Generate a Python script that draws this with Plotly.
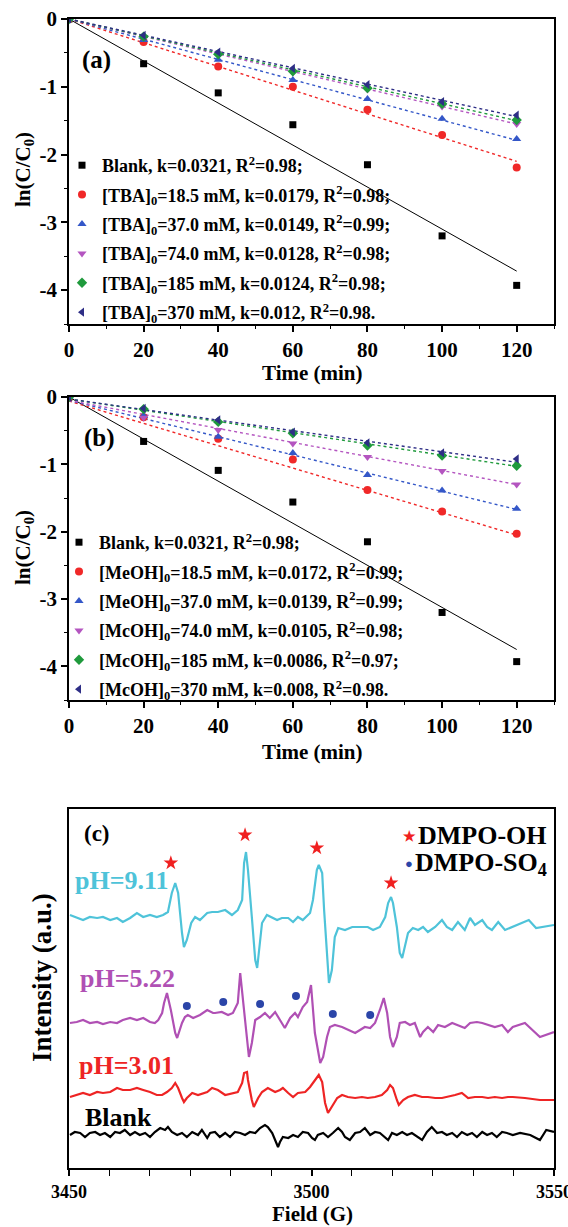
import plotly.graph_objects as go

W, H = 568, 1227
FONT = "Liberation Serif"

# ---------------- data: panels (a) and (b) ----------------
time_min = [0, 20, 40, 60, 80, 100, 120]

blank_vals = [0, -0.66, -1.09, -1.56, -2.15, -3.20, -3.93]

tba_labels = ["Blank, k=0.0321, R<sup>2</sup>=0.98;",
              "[TBA]<sub>0</sub>=18.5 mM, k=0.0179, R<sup>2</sup>=0.98;",
              "[TBA]<sub>0</sub>=37.0 mM, k=0.0149, R<sup>2</sup>=0.99;",
              "[TBA]<sub>0</sub>=74.0 mM, k=0.0128, R<sup>2</sup>=0.98;",
              "[TBA]<sub>0</sub>=185 mM, k=0.0124, R<sup>2</sup>=0.98;",
              "[TBA]<sub>0</sub>=370 mM, k=0.012, R<sup>2</sup>=0.98."]
tba_18 = [0, -0.34, -0.70, -1.00, -1.34, -1.71, -2.19]
tba_37 = [0, -0.31, -0.60, -0.90, -1.18, -1.47, -1.77]
tba_74 = [0, -0.27, -0.51, -0.79, -1.04, -1.29, -1.55]
tba_185 = [0, -0.26, -0.52, -0.77, -1.02, -1.25, -1.49]
tba_370 = [0, -0.24, -0.49, -0.73, -0.97, -1.22, -1.42]
tba_fit_start = [0, 0, 0, 0, 0, 0]
tba_fit_end = [-3.72, -2.10, -1.79, -1.55, -1.50, -1.44]

meoh_labels = ["Blank, k=0.0321, R<sup>2</sup>=0.98;",
               "[MeOH]<sub>0</sub>=18.5 mM, k=0.0172, R<sup>2</sup>=0.99;",
               "[MeOH]<sub>0</sub>=37.0 mM, k=0.0139, R<sup>2</sup>=0.99;",
               "[McOH]<sub>0</sub>=74.0 mM, k=0.0105, R<sup>2</sup>=0.98;",
               "[McOH]<sub>0</sub>=185 mM, k=0.0086, R<sup>2</sup>=0.97;",
               "[McOH]<sub>0</sub>=370 mM, k=0.008, R<sup>2</sup>=0.98."]
meoh_18 = [0, -0.30, -0.62, -0.93, -1.38, -1.70, -2.03]
meoh_37 = [0, -0.28, -0.59, -0.83, -1.16, -1.39, -1.66]
meoh_74 = [0, -0.31, -0.49, -0.69, -0.89, -1.10, -1.30]
meoh_185 = [0, -0.18, -0.37, -0.54, -0.72, -0.87, -1.02]
meoh_370 = [0, -0.17, -0.34, -0.52, -0.68, -0.83, -0.92]
meoh_fit_start = [0, -0.06, -0.05, -0.05, -0.03, -0.03]
meoh_fit_end = [-3.75, -2.05, -1.67, -1.30, -1.03, -0.97]

series_colors = ["#000000", "#f02828", "#3457c8", "#b455c0", "#1f9a3c", "#2e2e86"]
series_symbols = ["square", "circle", "triangle-up", "triangle-down", "diamond", "triangle-left"]

y_tick_vals = [0, -1, -2, -3, -4]
y_tick_text = ["0", "-1", "-2", "-3", "-4"]

# ---------------- data: panel (c) EPR spectra (field G, intensity a.u.) ----------------
spec_ph911 = [(3450.2,253),(3451.6,250),(3452.9,248),(3454.3,251),(3455.8,250),(3457.0,251),(3458.5,248),
    (3459.9,250),(3461.1,246),(3462.6,250),(3464.0,255),(3465.3,251),(3466.7,253),(3468.1,251),(3469.4,253),
    (3470.4,256),(3471.2,275),(3471.9,285),(3472.5,275),(3473.3,235),(3473.7,221),(3474.3,228),(3475.2,245),
    (3476.0,251),(3477.0,248),(3478.5,255),(3479.5,256),(3480.7,256),(3482.2,258),(3483.6,253),(3484.8,258),
    (3485.7,268),(3486.1,305),(3486.5,316),(3486.9,298),(3487.7,251),(3488.4,208),(3488.8,200),(3489.2,218),
    (3489.8,245),(3490.8,253),(3491.9,250),(3492.9,248),(3493.9,250),(3495.2,250),(3496.2,246),(3497.2,251),
    (3498.2,248),(3499.7,255),(3500.3,268),(3501.1,298),(3501.5,303),(3502.2,295),(3502.6,258),(3503.2,208),
    (3503.6,185),(3504.2,198),(3504.8,231),(3505.5,240),(3506.9,238),(3508.4,241),(3510.0,241),(3511.6,241),
    (3512.7,238),(3514.1,241),(3515.2,251),(3515.8,265),(3516.4,271),(3516.8,265),(3517.6,241),(3518.2,215),
    (3518.7,210),(3519.1,218),(3519.9,235),(3520.9,240),(3522.0,238),(3523.0,241),(3524.0,236),(3525.5,241),
    (3526.9,248),(3527.9,241),(3529.0,238),(3530.2,246),(3531.6,238),(3532.7,250),(3533.7,243),(3535.2,248),
    (3536.2,241),(3537.2,238),(3538.5,246),(3539.9,238),(3541.3,241),(3543.4,245),(3544.8,248),(3546.3,240),
    (3547.7,241),(3550.0,243)]

spec_ph522 = [(3450.2,145),(3451.6,146),(3452.9,148),(3454.3,145),(3455.8,146),(3457.0,144),(3458.5,146),
    (3459.9,145),(3461.1,148),(3462.6,150),(3464.0,148),(3465.3,150),(3466.7,146),(3467.7,145),(3468.4,148),
    (3469.2,155),(3469.6,165),(3470.2,175),(3471.0,158),(3471.9,135),(3472.3,130),(3473.3,145),(3473.9,151),
    (3474.5,153),(3475.6,150),(3477.0,153),(3478.5,158),(3479.7,155),(3480.1,155),(3481.5,156),(3482.8,153),
    (3483.8,155),(3484.8,165),(3485.3,195),(3486.3,148),(3487.1,111),(3487.7,125),(3488.4,148),(3489.4,151),
    (3490.4,155),(3491.4,150),(3492.5,156),(3493.5,148),(3494.5,140),(3495.6,150),(3496.6,155),(3497.2,151),
    (3498.2,161),(3499.1,166),(3499.9,183),(3500.7,135),(3501.8,105),(3502.4,111),(3503.2,131),(3503.8,141),
    (3504.8,143),(3506.3,141),(3507.5,138),(3509.0,135),(3510.0,138),(3511.0,141),(3512.1,140),(3513.1,145),
    (3514.1,158),(3514.9,170),(3515.6,155),(3516.2,131),(3516.8,121),(3517.6,131),(3518.2,145),(3519.3,146),
    (3520.3,143),(3521.3,145),(3522.4,131),(3523.0,136),(3524.0,141),(3525.1,136),(3526.1,143),(3527.5,141),
    (3529.0,145),(3530.2,143),(3531.6,140),(3532.7,145),(3534.1,146),(3535.2,145),(3536.4,143),(3537.8,141),
    (3539.3,143),(3540.5,136),(3541.5,141),(3544.0,145),(3547.1,131),(3550.0,136)]

spec_ph301 = [(3450.2,71),(3451.6,73),(3452.9,75),(3454.3,73),(3455.8,76),(3457.0,75),(3458.5,76),(3459.9,80),
    (3461.1,78),(3462.6,78),(3464.0,80),(3465.3,78),(3466.7,76),(3468.1,73),(3469.2,73),(3470.2,76),(3471.2,80),
    (3471.9,85),(3472.5,80),(3473.3,70),(3473.7,66),(3474.3,70),(3475.4,75),(3476.6,73),(3478.5,76),(3479.5,80),
    (3480.7,78),(3482.2,73),(3483.6,75),(3484.8,76),(3485.7,85),(3486.1,95),(3486.7,96),(3486.9,88),(3487.7,68),
    (3488.1,61),(3489.0,70),(3489.8,76),(3491.0,80),(3492.5,76),(3493.5,78),(3494.1,80),(3495.2,75),(3496.2,71),
    (3497.2,75),(3498.7,76),(3499.7,81),(3500.7,88),(3501.5,93),(3502.2,86),(3502.8,65),(3503.4,55),(3504.2,61),
    (3505.3,70),(3506.3,73),(3507.5,71),(3509.0,70),(3510.4,71),(3511.6,70),(3513.1,71),(3514.5,73),(3515.6,78),
    (3516.2,83),(3516.8,80),(3517.6,68),(3518.0,63),(3518.9,68),(3519.9,71),(3521.3,73),(3522.8,71),(3524.0,71),
    (3525.5,70),(3526.9,70),(3528.1,71),(3529.6,73),(3531.0,75),(3532.3,70),(3533.7,71),(3535.2,71),(3536.4,70),
    (3537.8,71),(3539.3,70),(3540.5,71),(3541.5,71),(3544.0,70),(3547.1,68),(3550.0,68)]

spec_blank = [(3450.2,33),(3451.2,36),(3452.3,35),(3453.3,31),(3454.3,35),(3455.4,36),(3456.4,33),(3457.4,35),
    (3458.5,31),(3459.5,36),(3460.5,35),(3461.5,38),(3462.6,33),(3463.6,36),(3464.6,33),(3465.7,35),(3466.7,31),
    (3467.7,36),(3468.8,40),(3469.8,38),(3470.4,41),(3471.2,36),(3472.3,33),(3473.3,35),(3474.3,31),(3475.4,36),
    (3476.6,33),(3477.4,38),(3478.5,30),(3479.1,35),(3480.1,36),(3481.1,31),(3482.2,35),(3483.2,31),(3484.2,36),
    (3485.3,35),(3486.3,33),(3487.3,36),(3488.4,35),(3489.4,40),(3490.4,43),(3491.0,41),(3491.9,35),(3492.5,28),
    (3493.1,21),(3493.5,26),(3494.1,31),(3495.2,30),(3496.2,33),(3497.2,31),(3498.2,36),(3499.3,35),(3500.1,30),
    (3500.7,28),(3501.3,33),(3502.4,35),(3503.4,31),(3504.4,35),(3505.5,40),(3506.3,36),(3506.9,31),(3507.9,28),
    (3509.0,35),(3510.0,36),(3511.0,40),(3512.1,33),(3513.1,36),(3514.1,35),(3515.2,31),(3515.8,28),(3516.6,35),
    (3517.6,33),(3518.7,36),(3519.7,33),(3520.7,35),(3521.8,31),(3522.8,28),(3523.8,36),(3524.8,41),(3525.9,35),
    (3526.9,36),(3527.9,33),(3529.0,35),(3530.0,31),(3531.0,36),(3532.1,33),(3533.1,35),(3534.1,31),(3535.2,36),
    (3536.2,33),(3537.2,35),(3538.2,31),(3539.3,36),(3540.3,35),(3541.5,33),(3543.0,35),(3545.1,33),(3547.1,28),
    (3548.4,38),(3550.0,36)]

star_field = [3471.0, 3486.3, 3501.1, 3516.4]
star_int = [305, 333, 320, 285]
dot_field = [3474.3, 3481.8, 3489.4, 3496.8, 3504.4, 3512.1]
dot_int = [162, 166, 164, 172, 154, 153]

spec_colors = {"pH=9.11": "#4ec3d9", "pH=5.22": "#b050b4", "pH=3.01": "#ee2424", "Blank": "#000000"}

# ---------------- figure ----------------
fig = go.Figure()

def add_kinetics(xa, ya, legend_name, label_list, datasets, fit_start, fit_end):
    for i, (lab, vals) in enumerate(zip(label_list, datasets)):
        c = series_colors[i]
        fig.add_trace(go.Scatter(
            x=[time_min[0], time_min[-1]], y=[fit_start[i], fit_end[i]],
            mode="lines", xaxis=xa, yaxis=ya, showlegend=False, hoverinfo="skip",
            line=dict(color=c, width=1.0 if i == 0 else 1.4, dash="solid" if i == 0 else "dot")))
    for i, (lab, vals) in enumerate(zip(label_list, datasets)):
        c = series_colors[i]
        fig.add_trace(go.Scatter(
            x=time_min, y=vals, mode="markers", xaxis=xa, yaxis=ya, name=lab,
            legend=legend_name, legendgroup=legend_name + str(i),
            marker=dict(symbol=series_symbols[i], color=c, size=8 if i != 0 else 7,
                        line=dict(width=0))))

add_kinetics("x", "y", "legend", tba_labels,
             [blank_vals, tba_18, tba_37, tba_74, tba_185, tba_370], tba_fit_start, tba_fit_end)
add_kinetics("x2", "y2", "legend2", meoh_labels,
             [blank_vals, meoh_18, meoh_37, meoh_74, meoh_185, meoh_370], meoh_fit_start, meoh_fit_end)

for name, spec in [("pH=9.11", spec_ph911), ("pH=5.22", spec_ph522),
                   ("pH=3.01", spec_ph301), ("Blank", spec_blank)]:
    fig.add_trace(go.Scatter(x=[p[0] for p in spec], y=[p[1] for p in spec], mode="lines",
                             xaxis="x3", yaxis="y3", showlegend=False,
                             line=dict(color=spec_colors[name], width=2.2)))
fig.add_trace(go.Scatter(x=star_field, y=star_int, mode="markers", xaxis="x3", yaxis="y3",
                         showlegend=False, marker=dict(symbol="star", size=11, color="#f02020")))
fig.add_trace(go.Scatter(x=dot_field, y=dot_int, mode="markers", xaxis="x3", yaxis="y3",
                         showlegend=False, marker=dict(symbol="circle", size=8, color="#2b45a8")))

xdom = [69 / W, 554 / W]
def ydom(top, bottom):
    return [1 - bottom / H, 1 - top / H]

tickfont = dict(family=FONT, size=21, color="black", weight="bold")
def kin_xaxis(dom_anchor):
    return dict(domain=xdom, anchor=dom_anchor, range=[0, 130], tick0=0, dtick=20, automargin=False,
                ticks="outside", ticklen=6, tickwidth=1.5, tickcolor="black",
                minor=dict(dtick=10, ticks="outside", ticklen=3, tickwidth=1.2, tickcolor="black"),
                showline=True, linewidth=1.8, linecolor="black", mirror=True,
                showgrid=False, zeroline=False, tickfont=tickfont)
def kin_yaxis(dom, anchor):
    return dict(domain=dom, anchor=anchor, range=[-4.5, 0], tickvals=y_tick_vals, ticktext=y_tick_text,
                automargin=False,
                ticks="outside", ticklen=6, tickwidth=1.5, tickcolor="black",
                minor=dict(dtick=0.5, ticks="outside", ticklen=3, tickwidth=1.2, tickcolor="black"),
                showline=True, linewidth=1.8, linecolor="black", mirror=True,
                showgrid=False, zeroline=False, tickfont=tickfont)

legend_common = dict(xanchor="left", yanchor="top", bgcolor="rgba(0,0,0,0)",
                     font=dict(family=FONT, size=18, color="black", weight="bold"),
                     tracegroupgap=3, itemwidth=30, borderwidth=0)

fig.update_layout(
    width=W, height=H, margin=dict(l=0, r=0, t=0, b=0, autoexpand=False),
    paper_bgcolor="white", plot_bgcolor="white",
    xaxis=kin_xaxis("y"), yaxis=kin_yaxis(ydom(19, 324), "x"),
    xaxis2=kin_xaxis("y2"), yaxis2=kin_yaxis(ydom(397, 700), "x2"),
    xaxis3=dict(domain=xdom, anchor="y3", range=[3450, 3550], tick0=3450, dtick=50, automargin=False,
                ticklabeloverflow="allow",
                ticks="outside", ticklen=6, tickwidth=1.5, tickcolor="black",
                minor=dict(dtick=50 / 6, ticks="outside", ticklen=6, tickwidth=1.2, tickcolor="black"),
                showline=True, linewidth=1.8, linecolor="black", mirror=True,
                showgrid=False, zeroline=False,
                tickfont=dict(family=FONT, size=18, color="black", weight="bold")),
    yaxis3=dict(domain=ydom(809, 1168), anchor="x3", range=[0, 359], showticklabels=False,
                automargin=False,
                ticks="", showline=True, linewidth=1.8, linecolor="black", mirror=True,
                showgrid=False, zeroline=False),
    legend=dict(x=62 / W, y=1 - 147 / H, **legend_common),
    legend2=dict(x=59 / W, y=1 - 524 / H, **legend_common),
)

def ann(text, x, y, size, color="black", xanchor="center", angle=0):
    fig.add_annotation(text=text, x=x / W, y=1 - y / H, xref="paper", yref="paper",
                       showarrow=False, xanchor=xanchor, yanchor="middle", textangle=angle,
                       font=dict(family=FONT, size=size, color=color, weight="bold"))

ann("(a)", 80, 60, 25, xanchor="left")
ann("(b)", 82, 438, 25, xanchor="left")
ann("(c)", 82, 833, 23, xanchor="left")
ann("Time (min)", 312, 373, 21)
ann("Time (min)", 312, 752, 21)
ann("Field (G)", 312, 1214, 21)
ann("ln(C/C<sub>0</sub>)", 24, 170, 21, angle=-90)
ann("ln(C/C<sub>0</sub>)", 24, 548, 21, angle=-90)
ann("Intensity (a.u.)", 42, 978, 27, angle=-90)
ann("pH=9.11", 73, 880, 26, color=spec_colors["pH=9.11"], xanchor="left")
ann("pH=5.22", 78, 978, 26, color=spec_colors["pH=5.22"], xanchor="left")
ann("pH=3.01", 77, 1065, 26, color=spec_colors["pH=3.01"], xanchor="left")
ann("Blank", 83, 1117, 26, xanchor="left")
ann("★", 409, 836, 14, color="#f02020")
ann("●", 409, 863, 13, color="#2b45a8")
ann("DMPO-OH", 549, 835, 26, xanchor="right")
ann("DMPO-SO<sub>4</sub>", 549, 864, 26, xanchor="right")

fig.write_html("out.html", config={"displayModeBar": False},
               post_script="document.body.style.margin='0';")
